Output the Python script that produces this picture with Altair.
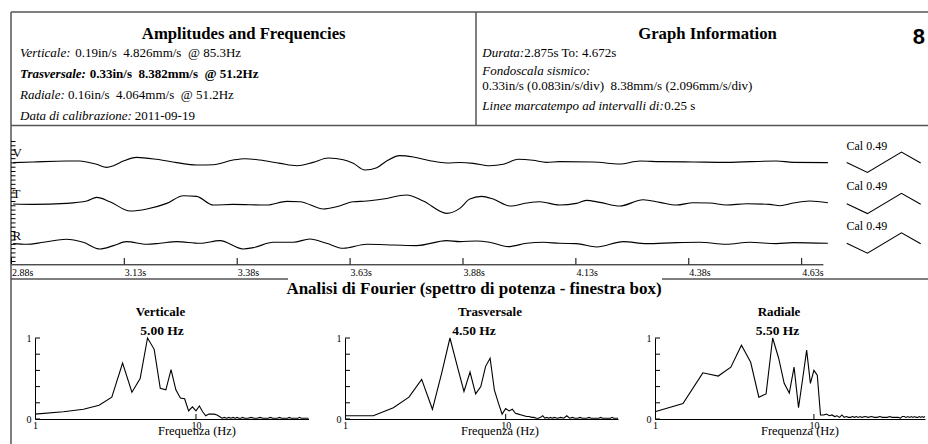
import altair as alt
import pandas as pd

# ---------------- seismic traces (velocity, in/s) ----------------
vert_time = [2.879, 2.923, 2.997, 3.027, 3.042, 3.064, 3.086, 3.101, 3.123, 3.152, 3.197, 3.241,
             3.285, 3.322, 3.366, 3.392, 3.425, 3.470, 3.507, 3.543, 3.577, 3.610, 3.632, 3.658,
             3.684, 3.706, 3.735, 3.765, 3.802, 3.839, 3.868, 3.898, 3.934, 3.964, 3.997, 4.030,
             4.060, 4.089, 4.163, 4.222, 4.267, 4.311, 4.385, 4.458, 4.569, 4.606, 4.683]
vert_vel = [-0.003, 0.010, 0.029, 0.029, 0.010, -0.035, -0.093, -0.061, 0.029, 0.099, 0.061, -0.003,
            -0.048, -0.042, 0.048, 0.073, 0.048, -0.016, -0.061, 0.003, 0.086, 0.054, -0.016, -0.144,
            -0.099, 0.029, 0.131, 0.105, 0.035, -0.010, 0.000, -0.016, -0.061, -0.035, 0.061, 0.042,
            0.003, 0.016, 0.010, -0.029, 0.029, 0.016, 0.010, 0.003, 0.029, 0.003, -0.003]

tras_time = [2.879, 2.923, 2.997, 3.042, 3.064, 3.093, 3.138, 3.175, 3.219, 3.256, 3.285, 3.322,
             3.366, 3.440, 3.485, 3.514, 3.566, 3.595, 3.632, 3.662, 3.698, 3.750, 3.787, 3.839,
             3.868, 3.890, 3.916, 3.942, 3.979, 4.016, 4.045, 4.089, 4.126, 4.148, 4.178, 4.222,
             4.274, 4.311, 4.348, 4.385, 4.422, 4.458, 4.503, 4.554, 4.577, 4.606, 4.643, 4.683]
tras_vel = [-0.006, -0.013, 0.006, 0.051, 0.121, 0.038, -0.141, -0.102, 0.006, 0.153, 0.141, -0.026,
            -0.013, -0.026, 0.045, 0.038, -0.102, -0.058, 0.038, 0.051, 0.089, 0.166, 0.051, -0.185,
            -0.089, 0.089, 0.141, 0.089, -0.045, 0.013, 0.038, -0.026, 0.006, 0.064, 0.026, -0.045,
            0.077, 0.026, -0.026, 0.019, 0.013, -0.026, 0.000, -0.013, -0.038, 0.013, 0.051, 0.019]

rad_time = [2.879, 2.909, 2.946, 2.997, 3.034, 3.071, 3.101, 3.130, 3.175, 3.204,
            3.241, 3.293, 3.337, 3.388, 3.411, 3.455, 3.499, 3.536, 3.573, 3.610,
            3.662, 3.721, 3.772, 3.839, 3.868, 3.905, 3.934, 3.975, 4.016, 4.053,
            4.089, 4.126, 4.171, 4.230, 4.281, 4.348, 4.399, 4.458, 4.510, 4.569,
            4.606, 4.683]
rad_vel = [-0.006, -0.019, 0.019, 0.077, 0.019, -0.109, -0.045, 0.032, -0.019, 0.000,
           0.032, 0.000, 0.051, -0.109, -0.083, 0.019, 0.019, 0.083, 0.000, -0.096,
           -0.019, -0.032, -0.045, 0.051, 0.032, 0.045, 0.019, -0.064, 0.000, 0.019,
           0.000, -0.006, -0.070, 0.032, -0.006, 0.013, 0.019, -0.019, 0.019, -0.006,
           0.013, 0.000]

time_ticks = [2.875, 3.125, 3.375, 3.625, 3.875, 4.125, 4.375, 4.625]
div_ticks = [0, 1, 2, 3, 4, 5, 6, 7, 8, 9, 10, 11, 12, 13, 14, 15, 16, 17, 18, 19, 20,
             21, 22, 23, 24, 25, 26, 27, 28]
cal_phase = [0.0, 0.28, 0.74, 1.0]
cal_vel = [0.0, -0.19, 0.20, -0.01]

# ---------------- power spectra (normalised) ----------------
freq_hz = [1.0, 1.5, 2.0, 2.5, 3.0, 3.5, 4.0, 4.5, 5.0, 5.5, 6.0, 6.5, 7.0, 7.5, 8.0, 8.5, 9.0, 9.5,
           10.0, 10.5, 11.0, 11.5, 12.0, 12.5, 13.0, 13.5, 14.0, 14.5, 15.0, 15.5, 16.0, 16.5,
           17.0, 17.5, 18.0, 18.5, 19.0, 19.5, 20.0, 21, 22, 23, 24, 25, 26, 27, 28, 29, 30,
           31, 32, 33, 34, 35, 36, 37, 38, 39, 40, 41, 42, 43, 44, 45, 46, 47, 48, 49, 50]
pow_vert = [0.06, 0.09, 0.12, 0.17, 0.27, 0.69, 0.33, 0.50, 1.00, 0.86,
            0.38, 0.36, 0.61, 0.36, 0.26, 0.25, 0.10, 0.15, 0.10, 0.16,
            0.09, 0.04, 0.06, 0.06, 0.06, 0.05, 0.03, 0.01, 0.02, 0.01,
            0.02, 0.01, 0.02, 0.01, 0.02, 0.01, 0.01, 0.02, 0.01,
            0.01, 0.02, 0.01, 0.01, 0.02, 0.01, 0.01, 0.01, 0.02, 0.01,
            0.01, 0.01, 0.02, 0.01, 0.01, 0.01, 0.01, 0.02, 0.01, 0.01,
            0.01, 0.01, 0.01, 0.02, 0.01, 0.01, 0.01, 0.01, 0.01, 0.01]
pow_tras = [0.04, 0.04, 0.14, 0.27, 0.49, 0.12, 0.57, 1.00, 0.65, 0.34,
            0.58, 0.31, 0.40, 0.65, 0.75, 0.36, 0.20, 0.06, 0.13, 0.10,
            0.12, 0.07, 0.06, 0.05, 0.04, 0.03, 0.03, 0.02, 0.02, 0.01,
            0.01, 0.02, 0.04, 0.01, 0.02, 0.01, 0.02, 0.01, 0.02,
            0.01, 0.02, 0.01, 0.04, 0.01, 0.02, 0.01, 0.01, 0.02, 0.01,
            0.01, 0.01, 0.02, 0.01, 0.01, 0.01, 0.01, 0.01, 0.02, 0.01,
            0.01, 0.01, 0.01, 0.01, 0.01, 0.02, 0.01, 0.01, 0.01, 0.01]
pow_rad = [0.09, 0.19, 0.57, 0.53, 0.64, 0.91, 0.70, 0.27, 0.31, 1.00,
           0.75, 0.44, 0.32, 0.64, 0.14, 0.50, 0.85, 0.44, 0.60, 0.54,
           0.05, 0.05, 0.06, 0.04, 0.05, 0.03, 0.04, 0.02, 0.05, 0.02,
           0.03, 0.02, 0.02, 0.03, 0.02, 0.03, 0.02, 0.03, 0.02,
           0.03, 0.02, 0.03, 0.02, 0.02, 0.03, 0.02, 0.02, 0.02, 0.03,
           0.02, 0.02, 0.02, 0.02, 0.01, 0.03, 0.03, 0.02, 0.03, 0.02,
           0.03, 0.02, 0.03, 0.02, 0.02, 0.03, 0.02, 0.03, 0.02, 0.03]
power_ticks = [0.0, 0.2, 0.4, 0.6, 0.8, 1.0]

SERIF = "Liberation Serif"
SANS = "Liberation Sans"
BORDER = "#555555"
BODY = 13  # body text size (px)


def one():
    return alt.Chart(pd.DataFrame({"k": [0]}))


def label(text, x, y, size=BODY, weight="normal", style="normal", align="left", font=SERIF):
    return one().mark_text(text=text, align=align, baseline="alphabetic", fontSize=size,
                           fontWeight=weight, fontStyle=style, font=font, color="black").encode(
        x=alt.value(x), y=alt.value(y))


def hline(x1, x2, y):
    return one().mark_rule(color=BORDER, strokeWidth=1.5).encode(
        x=alt.value(x1), x2=alt.value(x2), y=alt.value(y))


def vline(x, y1, y2):
    return one().mark_rule(color=BORDER, strokeWidth=1.5).encode(
        x=alt.value(x), y=alt.value(y1), y2=alt.value(y2))


layers = []

# ---------------- frame ----------------
layers += [hline(11, 928, 12), vline(11, 12, 444), hline(11, 928, 125.5), vline(476, 12, 125.5),
           hline(11, 288, 279), hline(662, 928, 279)]

# ---------------- header text ----------------
# widths (em) of the italic lead-ins in Liberation Serif (Times metrics) to place the value after them
NB = "\u00a0"
L0, R0 = 20, 482.3
layers += [
    label("Amplitudes and Frequencies", 243.7, 38.5, size=16.7, weight="bold", align="center"),
    label("Verticale:", L0, 57, style="italic"),
    label(f"0.19in/s{NB} 4.826mm/s{NB} @ 85.3Hz", L0 + 4.249 * BODY, 57),
    label("Trasversale:", L0, 77.5, style="italic", weight="bold"),
    label(f"0.33in/s{NB} 8.382mm/s{NB} @ 51.2Hz", L0 + 5.36 * BODY, 77.5, weight="bold"),
    label("Radiale:", L0, 98.5, style="italic"),
    label(f"0.16in/s{NB} 4.064mm/s{NB} @ 51.2Hz", L0 + 3.694 * BODY, 98.5),
    label("Data di calibrazione:", L0, 120, style="italic"),
    label("2011-09-19", L0 + 8.829 * BODY, 120),
    label("Graph Information", 707.5, 38.5, size=16.7, weight="bold", align="center"),
    label("8", 918.8, 43.5, size=22, weight="bold", align="center", font=SANS),
    label("Durata:", R0, 56.5, style="italic"),
    label("2.875s To: 4.672s", R0 + 3.222 * BODY, 56.5),
    label("Fondoscala sismico:", R0, 75, style="italic"),
    label(f"0.33in/s (0.083in/s/div){NB} 8.38mm/s (2.096mm/s/div)", R0, 89.5),
    label("Linee marcatempo ad intervalli di:", R0, 109.5, style="italic"),
    label("0.25 s", R0 + 13.999 * BODY, 109.5),
]

# ---------------- seismograms ----------------
TIME_SCALE = dict(domain=[2.875, 4.672], range=[11.4, 822.9], nice=False, zero=False)
time_axis = alt.Axis(orient="bottom", offset=264.3 - 444, values=time_ticks, format=".2f",
                     labelExpr="datum.label + 's'", ticks=False, tickSize=0, domain=True,
                     domainColor="black", domainWidth=1, labelFont=SERIF, labelFontSize=10,
                     labelColor="black", labelAlign="left", labelBaseline="top", labelPadding=3,
                     labelFlush=False, labelOverlap=False, grid=False, title=None)


def trace(times, vels, center, axis=None):
    df = pd.DataFrame({"t": times, "v": vels})
    return alt.Chart(df).mark_line(color="black", strokeWidth=1.1, interpolate="monotone").encode(
        x=alt.X("t:Q", scale=alt.Scale(**TIME_SCALE), axis=axis),
        y=alt.Y("v:Q", scale=alt.Scale(domain=[-0.33, 0.33], range=[center + 17.2, center - 17.2],
                                       nice=False, zero=False), axis=None))


def cal(center):
    df = pd.DataFrame({"p": cal_phase, "v": cal_vel})
    return alt.Chart(df).mark_line(color="black", strokeWidth=1.1).encode(
        x=alt.X("p:Q", scale=alt.Scale(domain=[0, 1], range=[846.7, 920.7], nice=False, zero=False),
                axis=None),
        y=alt.Y("v:Q", scale=alt.Scale(domain=[-0.33, 0.33], range=[center + 17.2, center - 17.2],
                                       nice=False, zero=False), axis=None))


CENTERS = [162.5, 203.7, 243.3]
layers += [
    trace(vert_time, vert_vel, CENTERS[0], axis=time_axis),
    trace(tras_time, tras_vel, CENTERS[1]),
    trace(rad_time, rad_vel, CENTERS[2]),
    cal(CENTERS[0]), cal(CENTERS[1]), cal(CENTERS[2]),
    alt.Chart(pd.DataFrame({"t": time_ticks})).mark_rule(color="black", strokeWidth=1).encode(
        x=alt.X("t:Q", scale=alt.Scale(**TIME_SCALE), axis=None),
        y=alt.value(258), y2=alt.value(264.3)),
    alt.Chart(pd.DataFrame({"d": div_ticks})).mark_rule(color="black", strokeWidth=1).encode(
        y=alt.Y("d:Q", scale=alt.Scale(domain=[0, 28], range=[261.5, 141.5], nice=False, zero=False),
                axis=None),
        x=alt.value(11), x2=alt.value(15.5)),
    label("V", 12.5, 157), label("T", 12.5, 198), label("R", 12.5, 240),
    label("Cal 0.49", 846.5, 150, size=12), label("Cal 0.49", 846.5, 190, size=12),
    label("Cal 0.49", 846.5, 230, size=12),
]

# ---------------- spectra ----------------
layers.append(label("Analisi di Fourier (spettro di potenza - finestra box)", 474, 293.5,
                    size=17, weight="bold", align="center"))


def spectrum(power, x0, x1, name, peak, name_x, peak_x, ftitle_x):
    df = pd.DataFrame({"f": freq_hz, "p": power})
    xs = alt.Scale(type="log", domain=[1, 50], range=[x0, x1], nice=False)
    ys = alt.Scale(domain=[0, 1], range=[419, 338], nice=False, zero=False)
    xaxis = alt.Axis(orient="bottom", offset=419 - 444, values=[1, 10], format="d", ticks=False,
                     tickSize=0, domain=True, domainColor="black", domainWidth=1, labelFont=SERIF,
                     labelFontSize=10, labelColor="black", labelBaseline="top", labelPadding=1,
                     labelFlush=False, labelOverlap=False, grid=False, title=None)
    yaxis = alt.Axis(orient="left", offset=-x0, values=[0, 1], format="d", ticks=False, tickSize=0,
                     domain=True, domainColor="black", domainWidth=1, labelFont=SERIF,
                     labelFontSize=10, labelColor="black", labelPadding=4, labelFlush=False,
                     labelOverlap=False, grid=False, title=None)
    return [
        alt.Chart(df).mark_line(color="black", strokeWidth=1.1).encode(
            x=alt.X("f:Q", scale=xs, axis=xaxis), y=alt.Y("p:Q", scale=ys, axis=yaxis)),
        alt.Chart(pd.DataFrame({"p": power_ticks})).mark_rule(color="black", strokeWidth=1).encode(
            y=alt.Y("p:Q", scale=ys, axis=None), x=alt.value(x0), x2=alt.value(x0 + 5)),
        alt.Chart(pd.DataFrame({"f": [10]})).mark_rule(color="black", strokeWidth=1).encode(
            x=alt.X("f:Q", scale=xs, axis=None), y=alt.value(414), y2=alt.value(419)),
        label(name, name_x, 316, size=13, weight="bold", align="center"),
        label(peak, peak_x, 334.5, size=13.5, weight="bold", align="center"),
        label("Frequenza (Hz)", ftitle_x, 435, size=12.5, align="center"),
    ]


layers += spectrum(pow_vert, 35, 308.5, "Verticale", "5.00 Hz", 160.5, 162, 197)
layers += spectrum(pow_tras, 345, 618, "Trasversale", "4.50 Hz", 490, 474, 500)
layers += spectrum(pow_rad, 655, 925, "Radiale", "5.50 Hz", 779, 777.5, 800)

chart = alt.layer(*layers).resolve_scale(x="independent", y="independent").properties(
    width=928, height=444, padding=0, background="white",
    autosize=alt.AutoSizeParams(type="none"),
).configure_view(stroke=None)

chart.save("out.html", embed_options={"renderer": "svg", "actions": False})
